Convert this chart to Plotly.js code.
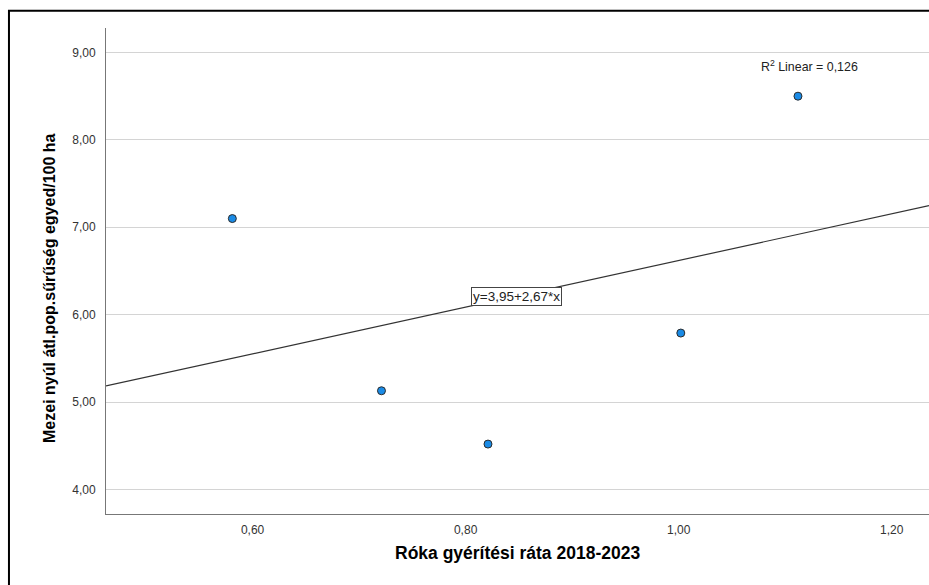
<!DOCTYPE html>
<html>
<head>
<meta charset="utf-8">
<script src="https://cdn.plot.ly/plotly-3.0.1.min.js"></script>
<style>html,body{margin:0;padding:0;background:#fff;overflow:hidden}#chart{width:929px;height:585px}</style>
</head>
<body>
<div id="chart"></div>
<script>
// Data
const foxRate = [0.581, 0.721, 0.821, 1.002, 1.112];
const hareDensity = [7.10, 5.13, 4.52, 5.79, 8.50];
const fitIntercept = 3.95;
const fitSlope = 2.67;
const rSquared = 0.126;
const xTickVals = [0.6, 0.8, 1.0, 1.2];
const yTickVals = [4, 5, 6, 7, 8, 9];
const xTitle = "Róka gyérítési ráta 2018-2023";
const yTitle = "Mezei nyúl átl.pop.sűrűség egyed/100 ha";

const xRange = [0.4624, 1.235];
const yRange = [3.72, 9.28];

const fitX = xRange.slice();
const fitY = fitX.map(v => fitIntercept + fitSlope * v);
const meanX = foxRate.reduce((a, b) => a + b, 0) / foxRate.length;
const fmt = v => v.toFixed(2).replace('.', ',');

const traces = [
  {
    x: fitX, y: fitY, type: 'scatter', mode: 'lines',
    line: {color: '#333333', width: 1.2}, hoverinfo: 'skip', showlegend: false
  },
  {
    x: foxRate, y: hareDensity, type: 'scatter', mode: 'markers',
    marker: {size: 8, color: '#1a8be6', line: {color: '#2b2b2b', width: 1}},
    showlegend: false
  }
];

const FF = 'Liberation Sans, Arial, sans-serif';
const tickFont = {family: FF, size: 12, color: '#333333'};

const layout = {
  width: 929, height: 585,
  margin: {l: 106, r: 0, t: 28, b: 71},
  paper_bgcolor: '#ffffff', plot_bgcolor: '#ffffff',
  separators: ', ',
  showlegend: false,
  xaxis: {
    range: xRange, tickvals: xTickVals, tickformat: '.2f',
    showgrid: false, zeroline: false, showline: true, linecolor: '#777777', linewidth: 1,
    ticks: '', tickfont: tickFont, ticklabelstandoff: 5
  },
  yaxis: {
    range: yRange, tickvals: yTickVals, tickformat: '.2f',
    showgrid: true, gridcolor: '#d4d4d4', gridwidth: 1,
    zeroline: false, showline: true, linecolor: '#777777', linewidth: 1,
    ticks: '', tickfont: tickFont, ticklabelstandoff: 7
  },
  shapes: [
    {type: 'rect', xref: 'paper', yref: 'paper', x0: -0.1179, x1: 1.2, y0: -0.4, y1: 1.0355,
     line: {color: '#000000', width: 2}, fillcolor: 'rgba(0,0,0,0)', layer: 'above'}
  ],
  annotations: [
    {xref: 'paper', yref: 'paper', x: 0.5, y: -0.0802, xanchor: 'center', yanchor: 'middle',
     text: '<b>' + xTitle + '</b>', showarrow: false,
     font: {family: FF, size: 17.5, color: '#000000'}},
    {xref: 'paper', yref: 'paper', x: -0.0693, y: 0.465, xanchor: 'center', yanchor: 'middle',
     text: '<b>' + yTitle + '</b>', textangle: -90, showarrow: false,
     font: {family: FF, size: 16, color: '#000000'}},
    {xref: 'paper', yref: 'paper', x: 0.855, y: 0.922, xanchor: 'center', yanchor: 'middle',
     text: 'R<sup>2</sup> Linear = ' + rSquared.toFixed(3).replace('.', ','), showarrow: false,
     font: {family: FF, size: 12.4, color: '#222222'}},
    {xref: 'x', yref: 'y', x: meanX, y: fitIntercept + fitSlope * meanX,
     xanchor: 'center', yanchor: 'middle',
     text: 'y=' + fmt(fitIntercept) + '+' + fmt(fitSlope) + '*x', showarrow: false,
     bgcolor: '#ffffff', bordercolor: '#444444', borderwidth: 1, borderpad: 1,
     font: {family: FF, size: 13.5, color: '#222222'}}
  ]
};

Plotly.newPlot('chart', traces, layout, {displayModeBar: false, staticPlot: true});
</script>
</body>
</html>
